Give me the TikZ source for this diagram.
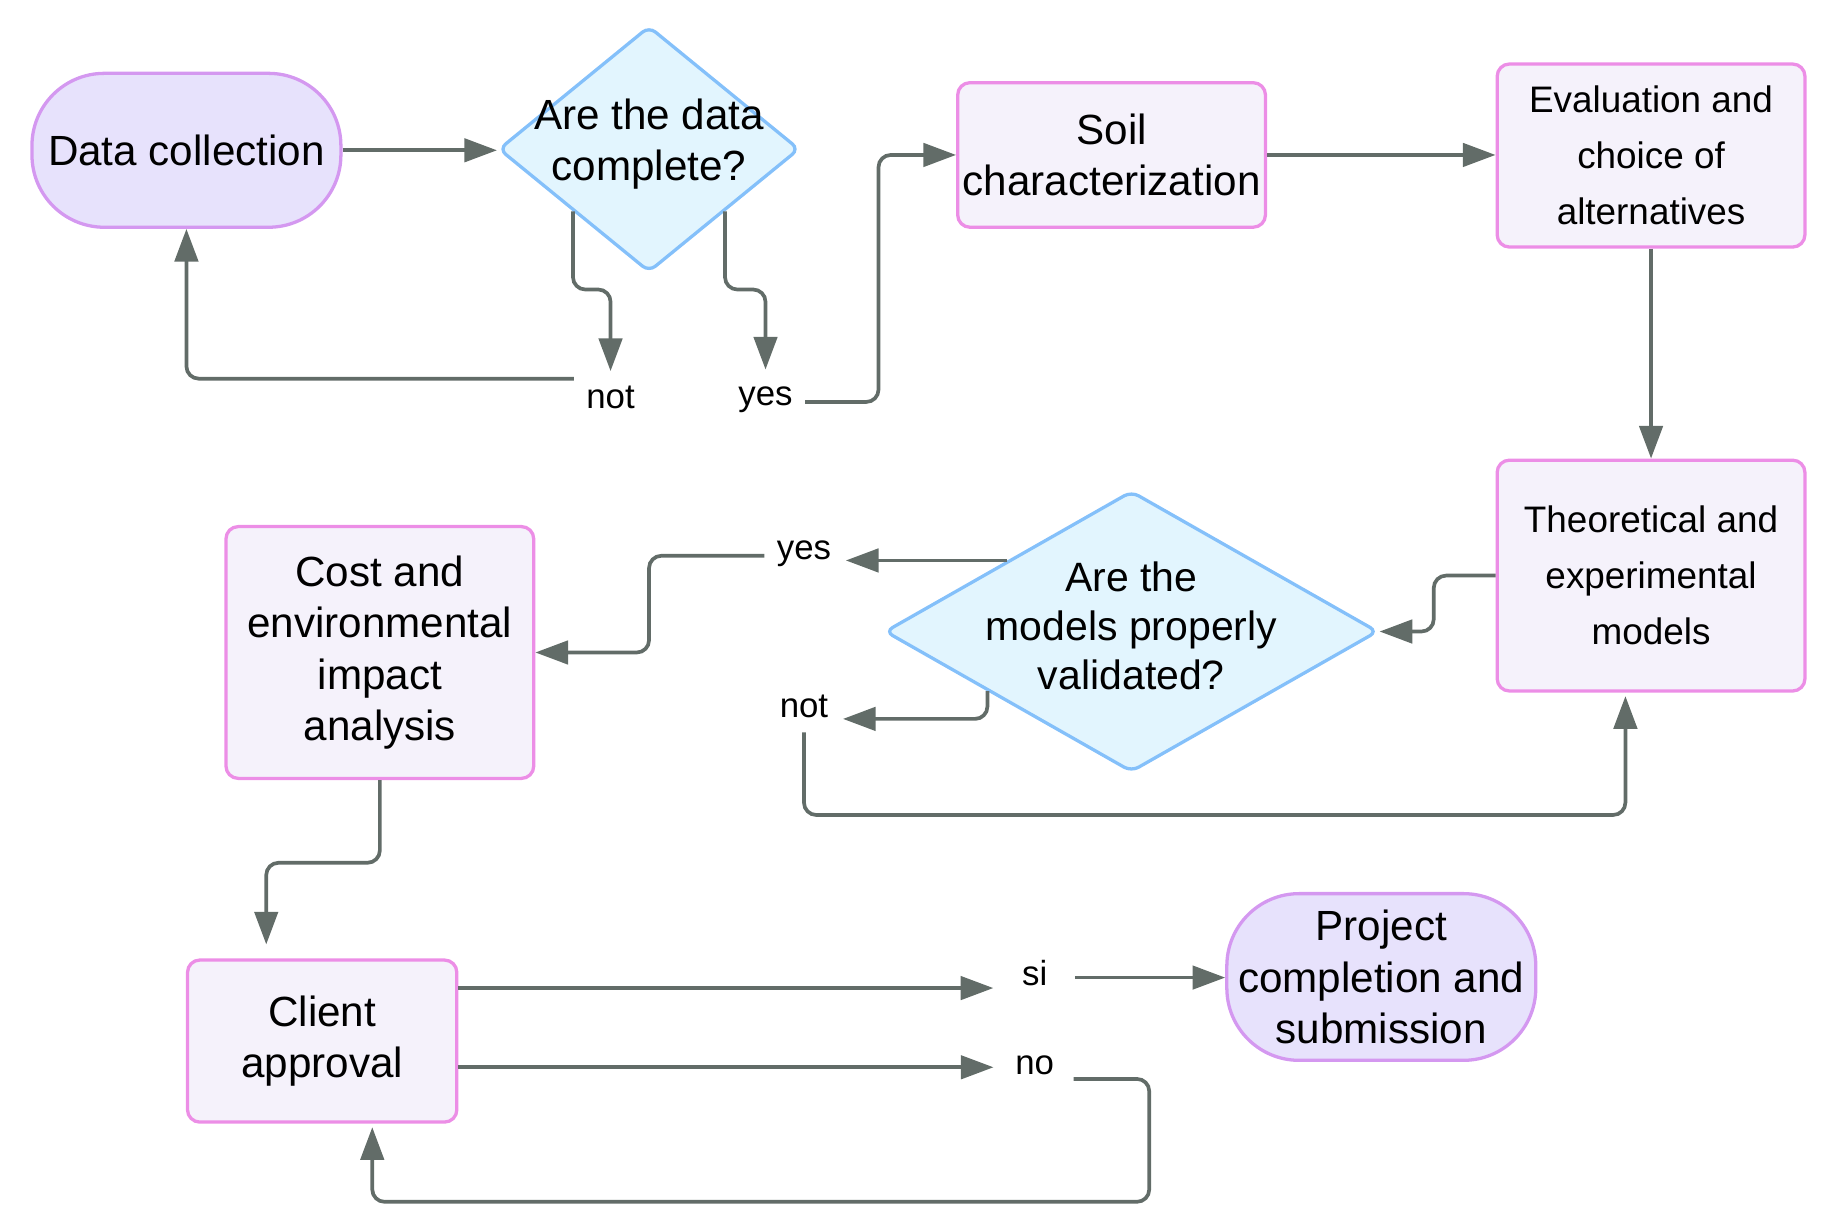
\documentclass[tikz,border=0pt]{standalone}
\usepackage{fontspec}
\setmainfont{Liberation Sans}
\usetikzlibrary{shapes.geometric, arrows.meta, calc}

\definecolor{boxfill}{RGB}{245,242,251}
\definecolor{boxline}{RGB}{236,142,230}
\definecolor{endfill}{RGB}{231,226,252}
\definecolor{endline}{RGB}{212,152,240}
\definecolor{qfill}{RGB}{226,245,254}
\definecolor{qline}{RGB}{132,192,250}
\definecolor{arrowgray}{RGB}{98,108,104}

\tikzset{
  box/.style={rectangle, rounded corners=3pt, draw=boxline, fill=boxfill, line width=0.8pt, align=center, inner sep=0pt},
  ends/.style={rectangle, rounded corners=0.62cm, draw=endline, fill=endfill, line width=0.8pt, align=center, inner sep=0pt},
  quest/.style={diamond, rounded corners=2pt, draw=qline, fill=qfill, line width=0.8pt, inner sep=0pt},
  big/.style={font=\fontsize{10.3}{12.5}\selectfont},
  small/.style={font=\fontsize{9}{13.7}\selectfont},
  lbl/.style={font=\fontsize{8.5}{10}\selectfont, inner sep=0pt},
  arr/.style={draw=arrowgray, line width=0.9pt, -{Triangle[length=0.28cm,width=0.2cm]}, rounded corners=3pt},
}

\begin{document}
\begin{tikzpicture}[x=0.01cm, y=-0.01cm]
\useasboundingbox (0,0) rectangle (1568,1037);

% steps
\node[ends, big, minimum width=2.65cm, minimum height=1.32cm] (dc) at (160,129) {Data collection};
\node[quest, minimum width=2.58cm, minimum height=2.11cm] (q1) at (557,128) {};
\node[big, align=center] (q1t) at (557,124) {Are the data\\complete?};
\node[box, big, minimum width=2.64cm, minimum height=1.24cm] (soil) at (954,133) {Soil\\characterization};
\node[box, small, minimum width=2.64cm, minimum height=1.57cm] (eval) at (1417,133.5) {Evaluation and\\choice of\\alternatives};
\node[box, small, minimum width=2.64cm, minimum height=1.98cm] (theo) at (1417,494) {Theoretical and\\experimental\\models};
\node[quest, minimum width=4.23cm, minimum height=2.41cm] (q2) at (971,542) {};
\node[font=\fontsize{10}{12}\selectfont, align=center] (q2t) at (971,537) {Are the\\models properly\\validated?};
\node[box, big, minimum width=2.64cm, minimum height=2.16cm] (cost) at (326,560) {Cost and\\environmental\\impact\\analysis};
\node[box, big, minimum width=2.31cm, minimum height=1.39cm] (client) at (276.5,893.5) {Client\\approval};
\node[ends, big, minimum width=2.65cm, minimum height=1.43cm] (proj) at (1185.5,838.5) {Project\\completion and\\submission};

% answers
\node[lbl] (not1) at (524,341) {not};
\node[lbl] (yes1) at (657,343) {yes};
\node[lbl] (yes2) at (690,475) {yes};
\node[lbl] (not2) at (690,606) {not};
\node[lbl] (si) at (888,835) {si};
\node[lbl] (no) at (888,914) {no};

\coordinate (siin) at ($(si.west)+(-24,13)$);
\coordinate (noin) at ($(no.west)+(-18,2)$);
\coordinate (siout) at ($(si.east)+(23,4)$);

% flow
\draw[arr] (dc.east) -- (dc.east -| q1.west);
\draw[arr] (q1.south west) -- ++(0,67) -| ($(not1.north)+(0,-12)$);
\draw[arr] (q1.south east) -- ++(0,67) -| ($(yes1.north)+(0,-14)$);
\draw[arr] ($(not1.west)+(-10,-16)$) -| (dc.south);
\draw[arr] ($(yes1.east)+(10,2)$) -- ++(63,0) |- (soil.west);
\draw[arr] (soil.east) -- (soil.east -| eval.west);
\draw[arr] (eval.south) -- (theo.north);
\draw[arr] (theo.west) -- ++(-53,0) |- (q2.east);
\draw[arr] (q2.north west) -- ($(q2.north west -| yes2.east)+(12,0)$);
\draw[arr] ($(yes2.west)+(-10,2)$) -- ++(-99,0) |- (cost.east);
\draw[arr] ($(q2.west)!0.42!(q2.south)$) |- ($(not2.east)+(12,11)$);
\draw[arr] ($(not2.south)+(0,12)$) |- ($(theo.south)+(-22,105)$) -- ($(theo.south)+(-22,3)$);
\draw[arr] (cost.south) -- ++(0,71) -| ($(client.north)+(-48,-12)$);
\draw[arr] (client.east |- siin) -- (siin);
\draw[arr] (client.east |- noin) -- (noin);
\draw[arr] (siout) -- (siout -| proj.west);
\draw[arr] ($(no.east)+(16,12)$) -- ++(65,0) |- ($(client.south)+(43,67)$) -- ($(client.south)+(43,3)$);
\end{tikzpicture}
\end{document}
